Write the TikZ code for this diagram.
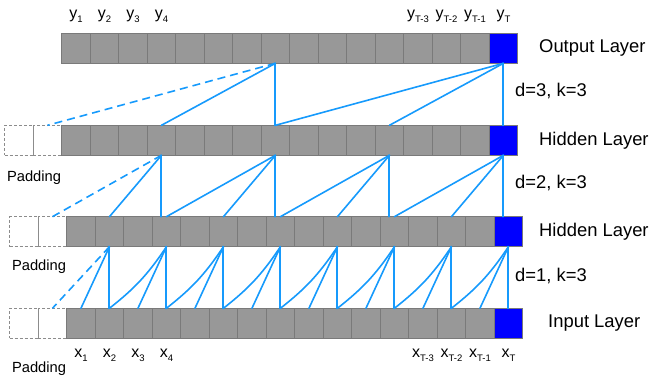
\documentclass[tikz,border=0pt]{standalone}
\usepackage{fontspec}
\setmainfont{Liberation Sans}
\usepackage{tikz}
\usetikzlibrary{calc,positioning}
\definecolor{cellG}{RGB}{152,152,152}
\definecolor{cellE}{RGB}{122,122,122}
\definecolor{cellT}{RGB}{0,0,255}
\definecolor{link}{RGB}{22,154,252}
\newcommand{\lsub}[1]{\raisebox{-0.45ex}{\fontsize{9.5}{10}\selectfont #1}}

\begin{document}
\begin{tikzpicture}[x=1pt, y=-1pt,
    every node/.style={font=\fontsize{18.4}{20}\selectfont, inner sep=0pt},
    cell/.style={draw=cellE, fill=cellG, line width=0.8pt, minimum width=28.5pt,
                 minimum height=30pt, outer sep=0pt},
    last/.style={cell, fill=cellT},
    pad/.style={draw=black!45, line width=0.7pt, dash pattern=on 3pt off 2pt,
                minimum width=28.5pt, minimum height=30pt, outer sep=0pt},
    conn/.style={draw=link, line width=1.6pt, line cap=round},
    vconn/.style={conn, line width=2pt},
    pdash/.style={conn, line cap=butt, dash pattern=on 8pt off 5pt},
    ylab/.style={font=\fontsize{16}{18}\selectfont, anchor=base},
    plab/.style={font=\fontsize{14.7}{16}\selectfont}]
  \useasboundingbox (0,0) rectangle (649,379);
  % padding cells in front of the three lower rows
  \foreach \lay/\xo/\yt in {hida/61.7/125.3, hidb/66.7/216.7, inp/66.7/308.3} {
    \node[pad] (\lay-0) at ({\xo-14.25}, {\yt+15}) {};
    \node[pad] (\lay-m1) at ({\xo-42.75}, {\yt+15}) {};
  }
  % the four rows of 16 cells, the last one (time T) in blue
  \foreach \lay/\xo/\yt in {out/61.7/33.3, hida/61.7/125.3, hidb/66.7/216.7, inp/66.7/308.3} {
    \foreach \i in {1,...,15}
      \node[cell] (\lay-\i) at ({\xo+28.5*(\i-0.5)}, {\yt+15}) {};
    \node[last] (\lay-16) at ({\xo+28.5*15.5}, {\yt+15}) {};
  }
  % d=3 : output <- first hidden row
  \foreach \t/\a/\b/\sty in {8/4/0/pdash, 16/12/8/conn} {
    \draw[vconn] (out-\t.south) -- (hida-\t.north);
    \draw[conn] (out-\t.south) -- (hida-\a.north);
    \draw[\sty] (out-\t.south) -- (hida-\b.north);
  }
  % d=2 : first hidden <- second hidden row
  \foreach \t/\a/\b/\sty in {4/2/0/pdash, 8/6/4/conn, 12/10/8/conn, 16/14/12/conn} {
    \draw[vconn] (hida-\t.south) -- (hida-\t.south |- hidb-\t.north);
    \draw[conn] (hida-\t.south) -- (hidb-\a.north);
    \draw[\sty] (hida-\t.south) -- (hidb-\b.north);
  }
  % d=1 : second hidden <- input row
  \draw[vconn] (hidb-2.south) -- (inp-2.north);
  \draw[conn] (hidb-2.south) -- (inp-1.north);
  \draw[pdash] (hidb-2.south) -- (inp-0.north);
  \foreach \t in {4,6,...,16} {
    \pgfmathtruncatemacro\a{\t-1}
    \pgfmathtruncatemacro\b{\t-2}
    \draw[vconn] (hidb-\t.south) -- (inp-\t.north);
    \draw[conn] (hidb-\t.south) -- (inp-\a.north);
    \draw[conn] (hidb-\t.south) to[bend left=9] (inp-\b.north);
  }
  % sequence labels
  \foreach \i/\s in {1/1, 2/2, 3/3, 4/4, 13/T-3, 14/T-2, 15/T-1, 16/T} {
    \node[ylab] (y-\i) at ($(out-\i.north)+(0,-15)$) {y\lsub{\s}};
    \node[ylab] (x-\i) at ($(inp-\i.south)+(0,19)$) {x\lsub{\s}};
  }
  % layer names and dilations
  \node[right=21.3pt of out-16] (lab-out) {Output Layer};
  \node[right=21.3pt of hida-16] (lab-hida) {Hidden Layer};
  \node[right=16.3pt of hidb-16] (lab-hidb) {Hidden Layer};
  \node[right=25.3pt of inp-16] (lab-inp) {Input Layer};
  \node[anchor=west] (d-3) at (515,91) {d=3, k=3};
  \node[anchor=west] (d-2) at (515,183.5) {d=2, k=3};
  \node[anchor=west] (d-1) at (515,276.5) {d=1, k=3};
  \node[plab] (pad-a) at (34,178) {Padding};
  \node[plab] (pad-b) at (39,267) {Padding};
  \node[plab] (pad-c) at (39,369) {Padding};
\end{tikzpicture}
\end{document}
